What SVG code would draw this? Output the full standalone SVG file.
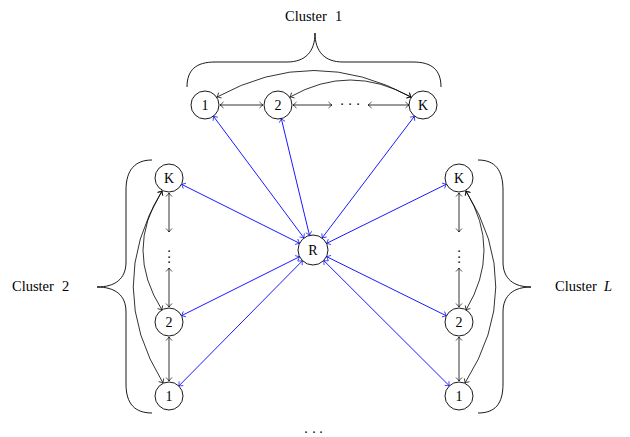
<svg xmlns="http://www.w3.org/2000/svg" width="630" height="437" viewBox="0 0 630 437">
<style>
.n circle{fill:#fff;stroke:#000;stroke-width:0.9}
.n text,.t{font-family:"Liberation Serif","Times New Roman",serif;font-size:14px;fill:#000}
.lbl{font-family:"Liberation Serif","Times New Roman",serif;font-size:14.5px;fill:#000}
.k{fill:none;stroke:#000;stroke-width:0.8;marker-start:url(#ak);marker-end:url(#ak)}
.b{fill:none;stroke:#0000ff;stroke-width:0.9;marker-start:url(#ab);marker-end:url(#ab)}
.br{fill:none;stroke:#000;stroke-width:0.9}
</style>
<defs>
<marker id="ak" viewBox="-5 -5 6 10" refX="0" refY="0" markerWidth="6" markerHeight="10" markerUnits="userSpaceOnUse" orient="auto-start-reverse"><path d="M-3.5,-3 Q-1,-0.6 0,0 Q-1,0.6 -3.5,3" fill="none" stroke="#000" stroke-width="0.7"/></marker>
<marker id="ab" viewBox="-5 -5 6 10" refX="0" refY="0" markerWidth="6" markerHeight="10" markerUnits="userSpaceOnUse" orient="auto-start-reverse"><path d="M-3.5,-3 Q-1,-0.6 0,0 Q-1,0.6 -3.5,3" fill="none" stroke="#0000ff" stroke-width="0.7"/></marker>
</defs>
<g id="braces">
<path class="br" d="M187,87 C187,70 196,62 215,62 L287,62 C305,62 315,52 315,33 C315,52 325,62 343,62 L413,62 C432,62 441,70 441,87"/>
<path class="br" d="M152,160 C135,160 126,170 126,190 L126,262 C126,279 115,287 97,287 C115,287 126,295 126,312 L126,384 C126,404 135,413 152,413"/>
<path class="br" d="M478,160 C495,160 503,170 503,190 L503,262 C503,279 514,287 531,287 C514,287 503,295 503,312 L503,384 C503,404 495,413 478,413"/>
</g>
<g id="labels">
<text class="lbl" x="285" y="21">Cluster<tspan x="335">1</tspan></text>
<text class="lbl" x="12" y="291">Cluster<tspan x="62">2</tspan></text>
<text class="lbl" x="555" y="291">Cluster<tspan x="604" font-style="italic">L</tspan></text>
<text class="t" x="342 350 358" y="109" text-anchor="middle">···</text>
<text class="t" x="169 169 169" y="256 261.5 267" text-anchor="middle">···</text>
<text class="t" x="459 459 459" y="256 261.5 267" text-anchor="middle">···</text>
<text class="t" x="306 314 321" y="433" text-anchor="middle" font-size="12">...</text>
</g>
<g id="connectors">
<line class="k" x1="220" y1="105" x2="263" y2="105"/>
<line class="k" x1="293" y1="105" x2="332" y2="105"/>
<line class="k" x1="368" y1="105" x2="409" y2="105"/>
<path class="k" d="M217,97 Q314,44 411,97"/>
<path class="k" d="M290,97 Q350,63 411,97"/>
<line class="k" x1="169" y1="193" x2="169" y2="232"/>
<line class="k" x1="169" y1="268" x2="169" y2="307"/>
<line class="k" x1="169" y1="337" x2="169" y2="381"/>
<path class="k" d="M162,191 Q124,250 162,310"/>
<path class="k" d="M162,191 Q104,287 163,383"/>
<line class="k" x1="459" y1="193" x2="459" y2="232"/>
<line class="k" x1="459" y1="268" x2="459" y2="307"/>
<line class="k" x1="459" y1="337" x2="459" y2="381"/>
<path class="k" d="M466,191 Q502,250 466,310"/>
<path class="k" d="M466,191 Q526,287 465,383"/>
<line class="b" x1="304.0" y1="238.0" x2="213.4" y2="116.2"/>
<line class="b" x1="309.5" y1="235.4" x2="281.3" y2="118.6"/>
<line class="b" x1="322.1" y1="238.0" x2="414.5" y2="116.2"/>
<line class="b" x1="299.6" y1="243.3" x2="181.5" y2="184.3"/>
<line class="b" x1="299.6" y1="256.7" x2="181.5" y2="315.7"/>
<line class="b" x1="302.5" y1="260.7" x2="178.8" y2="386.0"/>
<line class="b" x1="326.5" y1="243.4" x2="446.4" y2="184.2"/>
<line class="b" x1="326.5" y1="256.6" x2="446.4" y2="315.8"/>
<path class="b" d="M323.7,260.5 L449.3,385.8"/>
</g>
<g id="c1-1" class="n"><circle cx="205" cy="105" r="14"/><text x="205" y="110" text-anchor="middle">1</text></g>
<g id="c1-2" class="n"><circle cx="278" cy="105" r="14"/><text x="278" y="110" text-anchor="middle">2</text></g>
<g id="c1-K" class="n"><circle cx="423" cy="105" r="14"/><text x="423" y="110" text-anchor="middle">K</text></g>
<g id="R" class="n"><circle cx="313" cy="250" r="15"/><text x="313" y="255" text-anchor="middle">R</text></g>
<g id="c2-K" class="n"><circle cx="169" cy="178" r="14"/><text x="169" y="183" text-anchor="middle">K</text></g>
<g id="c2-2" class="n"><circle cx="169" cy="322" r="14"/><text x="169" y="327" text-anchor="middle">2</text></g>
<g id="c2-1" class="n"><circle cx="169" cy="396" r="14"/><text x="169" y="401" text-anchor="middle">1</text></g>
<g id="cL-K" class="n"><circle cx="459" cy="178" r="14"/><text x="459" y="183" text-anchor="middle">K</text></g>
<g id="cL-2" class="n"><circle cx="459" cy="322" r="14"/><text x="459" y="327" text-anchor="middle">2</text></g>
<g id="cL-1" class="n"><circle cx="459" cy="396" r="14"/><text x="459" y="401" text-anchor="middle">1</text></g>
</svg>
